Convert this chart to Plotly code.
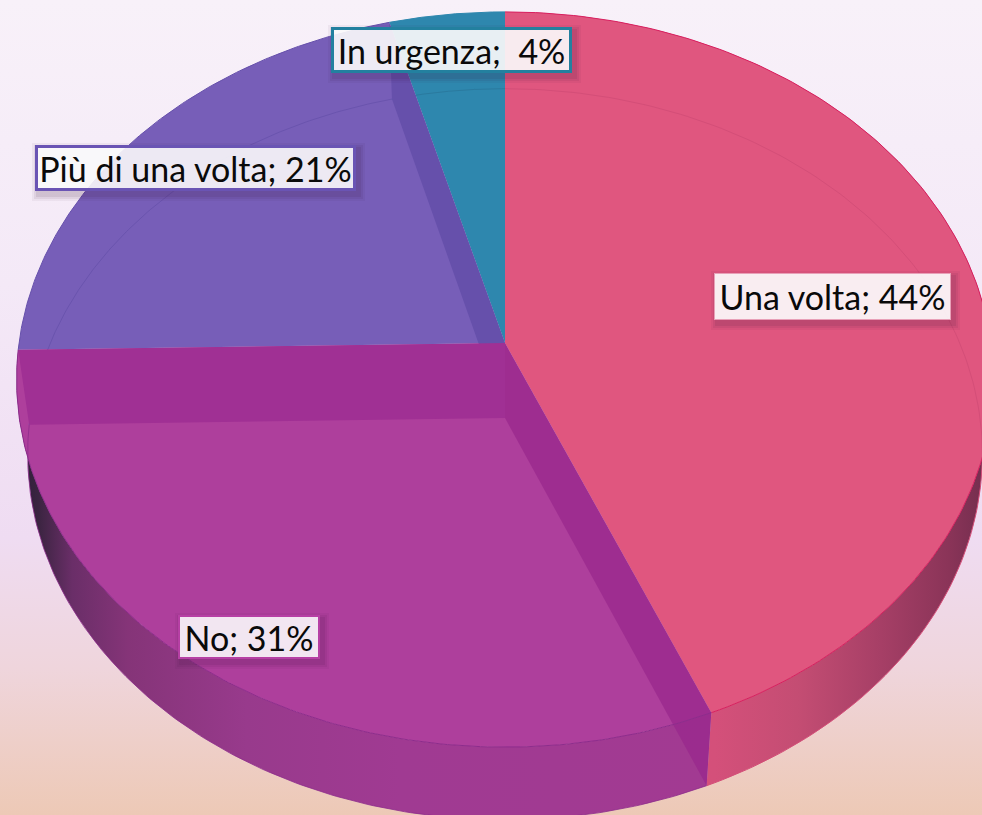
import numpy as np
import plotly.graph_objects as go

# ---- data -------------------------------------------------------------
categories = ["Una volta", "No", "Più di una volta", "In urgenza"]
shares = [43.7, 31.0, 21.1, 4.2]      # labels round them
separators = ["; ", "; ", "; ", "; \u00a0"]

# ---- style ------------------------------------------------------------
face_colors = ["#e0567f", "#ae3f9c", "#775eb8", "#2e87ae"]
border_colors = ["#e8a0b8", "#b640a4", "#6a54b4", "#23809f"]
border_widths = [1, 2, 3, 3]
box_fill = ["rgba(255,255,255,0.90)", "rgba(255,255,255,0.88)",
            "rgba(255,255,255,0.88)", "rgba(255,255,255,0.89)"]
# label boxes: x0, x1, y0, y1 in page pixels
boxes = [(714, 951, 273, 320), (178, 320, 615, 659), (35, 356, 145, 191), (331, 572, 27, 73)]
FONT = "Lato, sans-serif"
FONT_SIZE = 34

W, H = 982, 815
# perspective of the two discs: centre y, half width, depth scale, depth factor
TOP = dict(cy=343.0, A=486.0, B=364.0, k=0.0993)
BOT = dict(cy=418.0, A=475.0, B=362.0, k=0.0993)
CX = 505.0


def project(theta, d):
    u, v = np.sin(theta), np.cos(theta)
    w = 1 + d["k"] * v
    return CX + d["A"] * u / w, d["cy"] - d["B"] * v / w


def arc(t0, t1, d, n=160):
    return project(np.linspace(t0, t1, n), d)


def poly(xs, ys, color=None, gradient=None, line=None, lw=0):
    kw = dict(x=list(xs), y=list(ys), mode="lines", fill="toself",
              hoverinfo="skip", showlegend=False,
              line=dict(color=line or "rgba(0,0,0,0)", width=lw))
    if gradient:
        kw["fillgradient"] = gradient
    else:
        kw["fillcolor"] = color
    return go.Scatter(**kw)


def curve(xs, ys, color, lw=1):
    return go.Scatter(x=list(xs), y=list(ys), mode="lines", hoverinfo="skip",
                      showlegend=False, line=dict(color=color, width=lw))


edges = np.concatenate([[0], np.cumsum(shares)]) / sum(shares) * 2 * np.pi
fig = go.Figure()

# page background
fig.add_trace(poly([0, W, W, 0, 0], [0, 0, H, H, 0], gradient=dict(
    type="vertical",
    colorscale=[[0, "#edc9b6"], [0.18, "#efd5dc"], [0.34, "#efdcf2"],
                [0.65, "#f4e9f7"], [1, "#f8f1f9"]])))

# outer walls
wall_scales = [
    [[0, "#d9517c"], [0.43, "#d4507a"], [0.6, "#c44d73"], [0.77, "#a63f66"],
     [0.91, "#8a3458"], [1, "#6e2c4c"]],
    [[0, "#2e1c38"], [0.03, "#3a2440"], [0.08, "#6a2e68"], [0.16, "#853478"],
     [0.33, "#983a8c"], [0.55, "#a03a92"], [1, "#a23a92"]],
]
for i in (0, 1):
    tx, ty = arc(edges[i], edges[i + 1], TOP)
    bx, by = arc(edges[i + 1], edges[i], BOT)
    fig.add_trace(poly(np.r_[tx, bx, tx[0]], np.r_[ty, by, ty[0]],
                       gradient=dict(type="horizontal", colorscale=wall_scales[i])))

# top faces
for i in range(4):
    ax, ay = arc(edges[i], edges[i + 1], TOP)
    fig.add_trace(poly(np.r_[CX, ax, CX], np.r_[TOP["cy"], ay, TOP["cy"]], color=face_colors[i]))

# lower rim, seen through the faces
for i, c in ((0, "#d44e78"), (2, "#6a54ae"), (3, "#2a7a9f")):
    rx, ry = arc(edges[i], edges[i + 1], BOT)
    fig.add_trace(curve(rx, ry, c, 1))


# inner walls seen through the disc
def inner_wall(theta, color):
    tx, ty = project(theta, TOP)
    bx, by = project(theta, BOT)
    fig.add_trace(poly([CX, tx, bx, CX, CX],
                       [TOP["cy"], ty, by, BOT["cy"], TOP["cy"]], color=color))


inner_wall(edges[3], "#6650ab")
inner_wall(edges[1], "rgba(152,40,140,0.75)")
inner_wall(edges[2], "#a03094")

# rims
for i, c in enumerate(["#d8205f", "#8d2c8c", "#6650ab", "#2e87ae"]):
    ax, ay = arc(edges[i], edges[i + 1], TOP)
    fig.add_trace(curve(ax, ay, c, 1))
ax, ay = arc(edges[1], edges[2], BOT)
fig.add_trace(curve(ax, ay, "#8d2c8c", 0.8))

# labels
shapes, annotations = [], []
for i in range(4):
    x0, x1, y0, y1 = boxes[i]
    for grow, alpha in ((6, 0.05), (4, 0.07), (2, 0.09)):
        shapes.append(dict(type="rect", xref="x", yref="y",
                           x0=x0 + 3 - grow, x1=x1 + 3 + grow,
                           y0=y0 + 4 - grow, y1=y1 + 4 + grow,
                           fillcolor=f"rgba(60,20,60,{alpha})", line=dict(width=0)))
    annotations.append(dict(
        x=(x0 + x1) / 2, y=(y0 + y1) / 2, xref="x", yref="y", showarrow=False,
        text=f"{categories[i]}{separators[i]}{round(shares[i])}%",
        font=dict(family=FONT, size=FONT_SIZE, color="#0a0a0a"),
        width=x1 - x0 - 2 * border_widths[i], height=y1 - y0 - 2 * border_widths[i],
        bgcolor=box_fill[i], bordercolor=border_colors[i],
        borderwidth=border_widths[i], borderpad=0, align="center", valign="middle"))

fig.update_layout(
    width=W, height=H, margin=dict(l=0, r=0, t=0, b=0), showlegend=False,
    paper_bgcolor="#f8f1f9", plot_bgcolor="rgba(0,0,0,0)",
    xaxis=dict(range=[0, W], visible=False, fixedrange=True),
    yaxis=dict(range=[H, 0], visible=False, fixedrange=True),
    shapes=shapes, annotations=annotations)
fig.write_html("out.html", config=dict(displayModeBar=False),
               default_width=f"{W}px", default_height=f"{H}px",
               post_script="document.body.style.margin='0';document.body.style.overflow='hidden';")
